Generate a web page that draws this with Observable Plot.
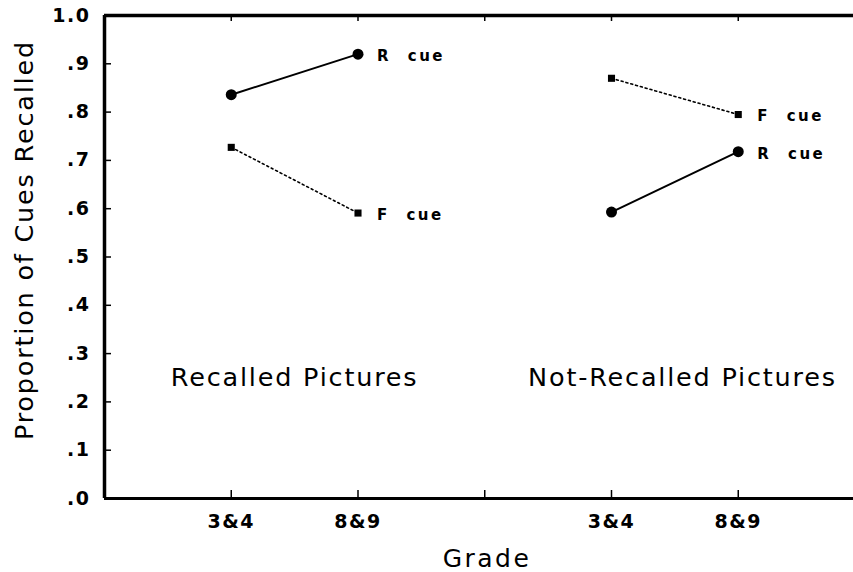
<!DOCTYPE html>
<html><head><meta charset="utf-8">
<script src="https://cdn.jsdelivr.net/npm/d3@7"></script>
<script src="https://cdn.jsdelivr.net/npm/@observablehq/plot@0.6"></script>
<style>body{margin:0;background:#fff} svg{display:block}</style>
</head><body><div id="chart"></div>
<script>
const panels = ["Recalled Pictures", "Not-Recalled Pictures"];
const grades = ["3&4", "8&9"];
const rCue = [[0.836, 0.920], [0.593, 0.718]];
const fCue = [[0.727, 0.591], [0.870, 0.795]];
const cueNames = ["R cue", "F cue"];
const xTickLabels = ["3&4", "8&9", "", "3&4", "8&9"];
const yTicks = [0, 0.1, 0.2, 0.3, 0.4, 0.5, 0.6, 0.7, 0.8, 0.9, 1.0];
const yTickLabels = [".0", ".1", ".2", ".3", ".4", ".5", ".6", ".7", ".8", ".9", "1.0"];
const yTitle = "Proportion of Cues Recalled";
const xTitle = "Grade";

const W = 853, H = 572, mL = 104, mT = 15, mB = 74, mR = 0;
const pxPerSlot = 126.75;
const frameW = W - mL - mR, frameH = H - mT - mB;
const slots = xTickLabels.map((_, i) => i + 1);

function rows(vals, cue) {
  const out = [];
  panels.forEach((p, pi) => grades.forEach((g, gi) => {
    out.push({panel: p, grade: g, slot: pi * 3 + gi + 1, value: vals[pi][gi], cue, last: gi === grades.length - 1});
  }));
  return out;
}
const rRows = rows(rCue, cueNames[0]);
const fRows = rows(fCue, cueNames[1]);
const panelCenters = panels.map((p, pi) => ({panel: p, x: pi * 3.06 + 1.5}));

const font = "DejaVu Sans";
const chart = Plot.plot({
  width: W, height: H,
  marginLeft: mL, marginRight: mR, marginTop: mT, marginBottom: mB,
  x: {domain: [0, (W - mL) / pxPerSlot], axis: null},
  y: {domain: [0, 1], axis: null},
  style: {fontFamily: font, color: "black", background: "white", overflow: "visible"},
  marks: [
    Plot.ruleX([0], {stroke: "black", strokeWidth: 3.5}),
    Plot.ruleY([0], {stroke: "black", strokeWidth: 3}),
    Plot.ruleY([1], {stroke: "black", strokeWidth: 3.5}),
    Plot.tickY(yTicks, {y: d => d, stroke: "black", strokeWidth: 1.5, insetRight: frameW - 7}),
    Plot.tickX(slots, {x: d => d, stroke: "black", strokeWidth: 1.5, insetTop: frameH - 8}),
    Plot.tickX(slots, {x: d => d, stroke: "black", strokeWidth: 1.5, insetBottom: frameH - 6}),
    Plot.text(yTicks, {y: d => d, text: (d, i) => yTickLabels[i], frameAnchor: "left", dx: -14, textAnchor: "end", fontSize: 19, fontWeight: "bold"}),
    Plot.text(slots, {x: d => d, text: (d, i) => xTickLabels[i], frameAnchor: "bottom", dy: 23, lineAnchor: "middle", fontSize: 19, fontWeight: "bold"}),
    Plot.text([yTitle], {x: () => -80 / pxPerSlot, y: () => 0.535, rotate: -90, lineAnchor: "middle", fontSize: 25.5}),
    Plot.text([xTitle], {frameAnchor: "bottom", dx: 8, dy: 60, lineAnchor: "middle", fontSize: 25}),
    Plot.text(panelCenters, {x: "x", y: () => 0.25, text: "panel", lineAnchor: "middle", fontSize: 25.5}),
    Plot.line(rRows, {x: "slot", y: "value", z: "panel", stroke: "black", strokeWidth: 2}),
    Plot.line(fRows, {x: "slot", y: "value", z: "panel", stroke: "black", strokeWidth: 1.6, strokeDasharray: "2,3"}),
    Plot.dot(rRows, {x: "slot", y: "value", r: 5.5, fill: "black", symbol: "circle"}),
    Plot.dot(fRows, {x: "slot", y: "value", r: 4, fill: "black", symbol: "square"}),
    Plot.text(rRows.concat(fRows).filter(d => d.last), {x: "slot", y: "value", text: "cue", dx: 19, dy: 2, textAnchor: "start", lineAnchor: "middle", fontSize: 15, fontWeight: "bold"})
  ]
});
const spacing = {"19": "1.5px", "25.5": "1.8px", "25": "2.5px", "15": "2.5px"};
chart.querySelectorAll("g[aria-label='text']").forEach(g => {
  const fs = g.getAttribute("font-size");
  if (spacing[fs]) g.style.letterSpacing = spacing[fs];
  if (fs === "15") g.style.wordSpacing = "9px";
});
document.getElementById("chart").appendChild(chart);
</script>
</body></html>
